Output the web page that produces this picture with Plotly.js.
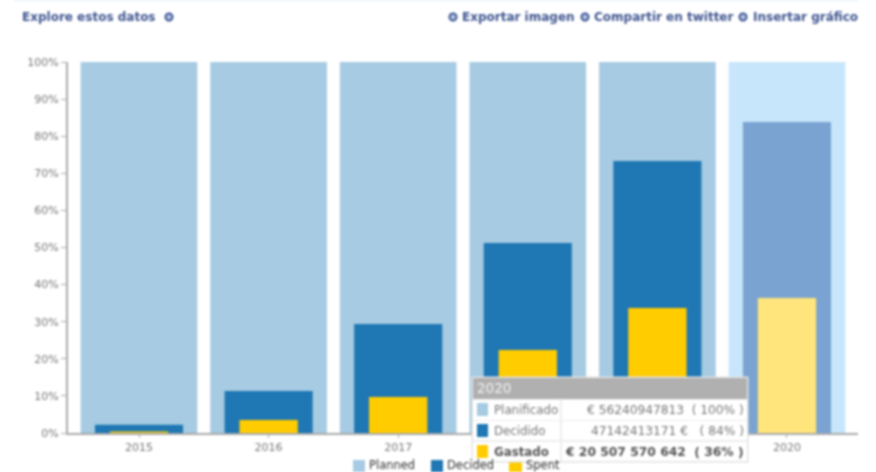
<!DOCTYPE html>
<html><head><meta charset="utf-8">
<script src="https://cdn.plot.ly/plotly-3.0.1.min.js"></script>
<style>html,body{margin:0;padding:0;background:#fff;overflow:hidden}#c{width:876px;height:472px;filter:blur(0.8px)}</style>
</head><body><div id="c"></div>
<script>
const years=['2015','2016','2017','2018','2019','2020'];
const yearLabels=['2015','2016','2017','','','2020'];
const planned=[100,100,100,100,100,100];
const decided=[2.2,11.3,29.4,51.2,73.3,83.8];
const spent=[0.4,3.5,9.7,22.4,33.7,36.4];
const plannedColors=['#a6cbe2','#a6cbe2','#a6cbe2','#a6cbe2','#a6cbe2','#c7e6fb'];
const decidedColors=['#1f77b4','#1f77b4','#1f77b4','#1f77b4','#1f77b4','#7aa3d2'];
const spentColors=['#ffcc00','#ffcc00','#ffcc00','#ffcc00','#ffcc00','#ffe57c'];
const yTicks=[0,10,20,30,40,50,60,70,80,90,100];
const seriesNames=['Planned','Decided','Spent'];
const tipTitle='2020';
const tipLabels=['Planificado','Decidido','Gastado'];
const tipValues=['€ 56240947813  ( 100% )','47142413171 €   ( 84% )','€ 20 507 570 642  ( 36% )'];
const tipSwatches=['#a6cbe2','#1f77b4','#ffcc00'];
const headerLeft='Explore estos datos';
const headerRight=['Exportar imagen','Compartir en twitter','Insertar gráfico'];

const W=876,H=472,L=68,R=18,T=62,B=39;
const px=x=>(x-L)/(W-L-R), py=y=>(H-B-y)/(H-T-B);
const rect=(x0,y0,x1,y1,fill,line)=>({type:'rect',xref:'paper',yref:'paper',layer:'above',x0:px(x0),x1:px(x1),y0:py(y0),y1:py(y1),fillcolor:fill,line:{width:line?1:0,color:line||fill}});
const txt=(x,y,t,anchor,size,color,bold)=>({xref:'paper',yref:'paper',x:px(x),y:py(y),text:bold?'<b>'+t+'</b>':t,showarrow:false,xanchor:anchor,yanchor:'middle',font:{family:'DejaVu Sans',size:size,color:color}});
const ring=(cx,cy)=>({type:'circle',xref:'paper',yref:'paper',layer:'above',x0:px(cx-3.5),x1:px(cx+3.5),y0:py(cy+3.5),y1:py(cy-3.5),fillcolor:'#b9c6de',line:{width:2,color:'#3c5596'}});

const navy='#3f5590';
const shapes=[
  rect(14,-1,858,1,'#dce9f6'),
  ring(169,17),ring(453,17),ring(585,17),ring(743,17),
  rect(353,460,365,473,plannedColors[0]),
  rect(431,460,443,473,decidedColors[0]),
  rect(509,460,522,473,spentColors[0]),
  rect(472,377,748,462,'#eeeeee','#dddddd'),
  rect(473,378,747,399,'#b0b0b0'),
  rect(473,400,560,420,'#ffffff'),rect(562,400,747,420,'#ffffff'),
  rect(473,421,560,440,'#ffffff'),rect(562,421,747,440,'#ffffff'),
  rect(473,442,560,461,'#ffffff'),rect(562,442,747,461,'#ffffff'),
  rect(477,403,488,416,tipSwatches[0]),
  rect(477,424,488,437,tipSwatches[1]),
  rect(477,445,488,458,tipSwatches[2])
];
const annotations=[
  txt(20,17,headerLeft,'left',12,navy,true),
  txt(460,17,headerRight[0],'left',12,navy,true),
  txt(592,17,headerRight[1],'left',12,navy,true),
  txt(751,17,headerRight[2],'left',12,navy,true),
  txt(367,465,seriesNames[0],'left',11.5,'#333333'),
  txt(445,465,seriesNames[1],'left',11.5,'#333333'),
  txt(524,465,seriesNames[2],'left',11.5,'#333333'),
  txt(475,388,tipTitle,'left',13.5,'#f2f2f2'),
  txt(492,409.5,tipLabels[0],'left',11.8,'#777777'),
  txt(492,430.5,tipLabels[1],'left',11.8,'#777777'),
  txt(492,451.5,tipLabels[2],'left',11.8,'#555555',true),
  txt(746,409.5,tipValues[0],'right',12.2,'#777777'),
  txt(746,430.5,tipValues[1],'right',12.2,'#777777'),
  txt(746,451.5,tipValues[2],'right',12.3,'#555555',true)
];
const bar=(name,y,colors,width)=>({type:'bar',name:name,x:years,y:y,width:width,marker:{color:colors,line:{width:0}},hoverinfo:'skip'});
Plotly.newPlot('c',[
  bar(seriesNames[0],planned,plannedColors,0.9),
  bar(seriesNames[1],decided,decidedColors,0.68),
  bar(seriesNames[2],spent,spentColors,0.45)
],{
  width:W,height:H,barmode:'overlay',paper_bgcolor:'#fff',plot_bgcolor:'#fff',
  margin:{l:L,r:R,t:T,b:B,pad:0,autoexpand:false},
  font:{family:'DejaVu Sans',size:11,color:'#777777'},
  xaxis:{type:'category',range:[-0.548,5.548],tickvals:years,ticktext:yearLabels,showgrid:false,showline:true,linecolor:'#aaaaaa',linewidth:1.5,ticks:'outside',ticklen:3,tickcolor:'#aaaaaa',tickfont:{size:11,color:'#777777'}},
  yaxis:{range:[0,100],tickvals:yTicks,ticktext:yTicks.map(v=>v+'%'),showgrid:false,zeroline:false,showline:true,linecolor:'#aaaaaa',linewidth:2,ticks:'outside',ticklen:5,tickcolor:'#aaaaaa',tickfont:{size:11,color:'#777777'}},
  showlegend:false,
  shapes:shapes,annotations:annotations
},{displayModeBar:false,staticPlot:true});
</script></body></html>
